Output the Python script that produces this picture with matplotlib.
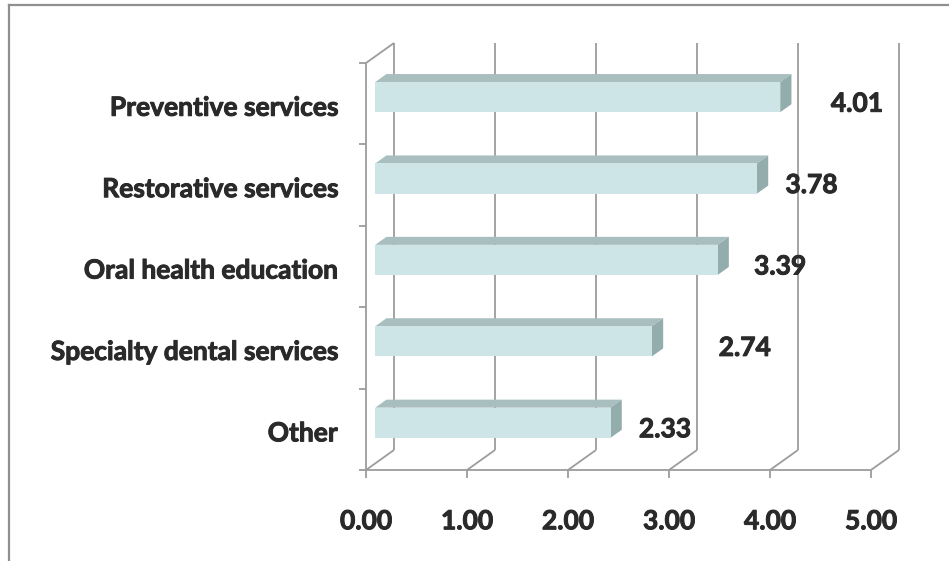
import matplotlib
matplotlib.use("Agg")
import matplotlib.pyplot as plt
import matplotlib.patheffects as pe
from matplotlib.patches import Polygon
from matplotlib.lines import Line2D

plt.rcParams.update({'font.family': ['Lato', 'DejaVu Sans'], 'font.weight': 'bold'})

categories = ["Other", "Specialty dental services", "Oral health education",
              "Restorative services", "Preventive services"]
scores = [2.33, 2.74, 3.39, 3.78, 4.01]
x_ticks = [0, 1, 2, 3, 4, 5]
x_ticklabels = ["0.00", "1.00", "2.00", "3.00", "4.00", "5.00"]

# where each value label sits to the right of its bar (in axis units)
label_nudge = [0.63, 1.01, 0.71, 0.63, 0.85]

FRONT = "#cde5e6"; TOP = "#a9bfbf"; SIDE = "#93acac"
GRID = "#9c9c9c"; TXT = "#2a2a2a"
FS = 19
heavy = [pe.withStroke(linewidth=0.7, foreground=TXT)]

W, H = 949, 561
fig = plt.figure(figsize=(W / 100, H / 100), dpi=100)
fig.patch.set_facecolor('white')

# front plane of the box: x 0..5, one unit per category in y
ax = fig.add_axes([366 / W, 91 / H, 505 / W, 407 / H])
ax.set_xlim(0, 5); ax.set_ylim(0, len(categories)); ax.axis('off')

# depth offset of the back wall, in axis units (28 px right, 20 px up)
KX = 28 / 101.0; KY = 20 / 81.4

def proj(v, c, d):
    return (v + d * KX, c + d * KY)

def seg(p, q, **kw):
    ax.add_line(Line2D([p[0], q[0]], [p[1], q[1]], color=GRID, lw=1.3,
                       clip_on=False, solid_capstyle='butt', **kw))

def label(x, y, s, **kw):
    ax.text(x, y, s, va='center', fontsize=FS, fontweight='bold', color=TXT,
            path_effects=heavy, **kw)

ncat = len(categories)
# back wall gridlines + floor diagonals + front floor ticks
for v in x_ticks:
    seg(proj(v, 0, 1), proj(v, ncat, 1), zorder=1)
    seg(proj(v, 0, 0), proj(v, 0, 1), zorder=1)
    seg((v, 0), (v, -0.1), zorder=1)
seg(proj(0, 0, 0), proj(5, 0, 0), zorder=1)
# left wall
seg(proj(0, 0, 0), proj(0, ncat, 0), zorder=1)
seg(proj(0, ncat, 0), proj(0, ncat, 1), zorder=1)
for c in range(ncat + 1):
    seg((0, c), (-0.07, c), zorder=1)

# 3-D style bars: front face from barh, top and side faces as polygons
d0, d1 = 0.33, 0.73
bh = 0.37
ypos = [i + 0.5 + d0 * KY for i in range(ncat)]
ax.barh(ypos, scores, height=bh, left=d0 * KX, color=FRONT, zorder=3, clip_on=False)
for i, val in enumerate(scores):
    yb = i + 0.5 - bh / 2; yt = i + 0.5 + bh / 2
    top = [proj(0, yt, d0), proj(val, yt, d0), proj(val, yt, d1), proj(0, yt, d1)]
    side = [proj(val, yb, d0), proj(val, yt, d0), proj(val, yt, d1), proj(val, yb, d1)]
    ax.add_patch(Polygon(top, closed=True, facecolor=TOP, edgecolor='none', zorder=2, clip_on=False))
    ax.add_patch(Polygon(side, closed=True, facecolor=SIDE, edgecolor='none', zorder=2, clip_on=False))
    label(val + label_nudge[i], i + 0.5, f"{val:.2f}", ha='center')
    label(-0.28, i + 0.45, categories[i], ha='right')

for v, lab in zip(x_ticks, x_ticklabels):
    label(v, -0.63, lab, ha='center')

# frame edges left over from the original slide
fig.add_artist(Line2D([9 / W, 9 / W], [0, 1 - 5 / H], color='#8f8f8f', lw=1.6,
                      transform=fig.transFigure))
fig.add_artist(Line2D([9 / W, 1], [1 - 5 / H, 1 - 5 / H], color='#8f8f8f', lw=1.6,
                      transform=fig.transFigure))

fig.savefig("out.png", dpi=100, facecolor='white')
